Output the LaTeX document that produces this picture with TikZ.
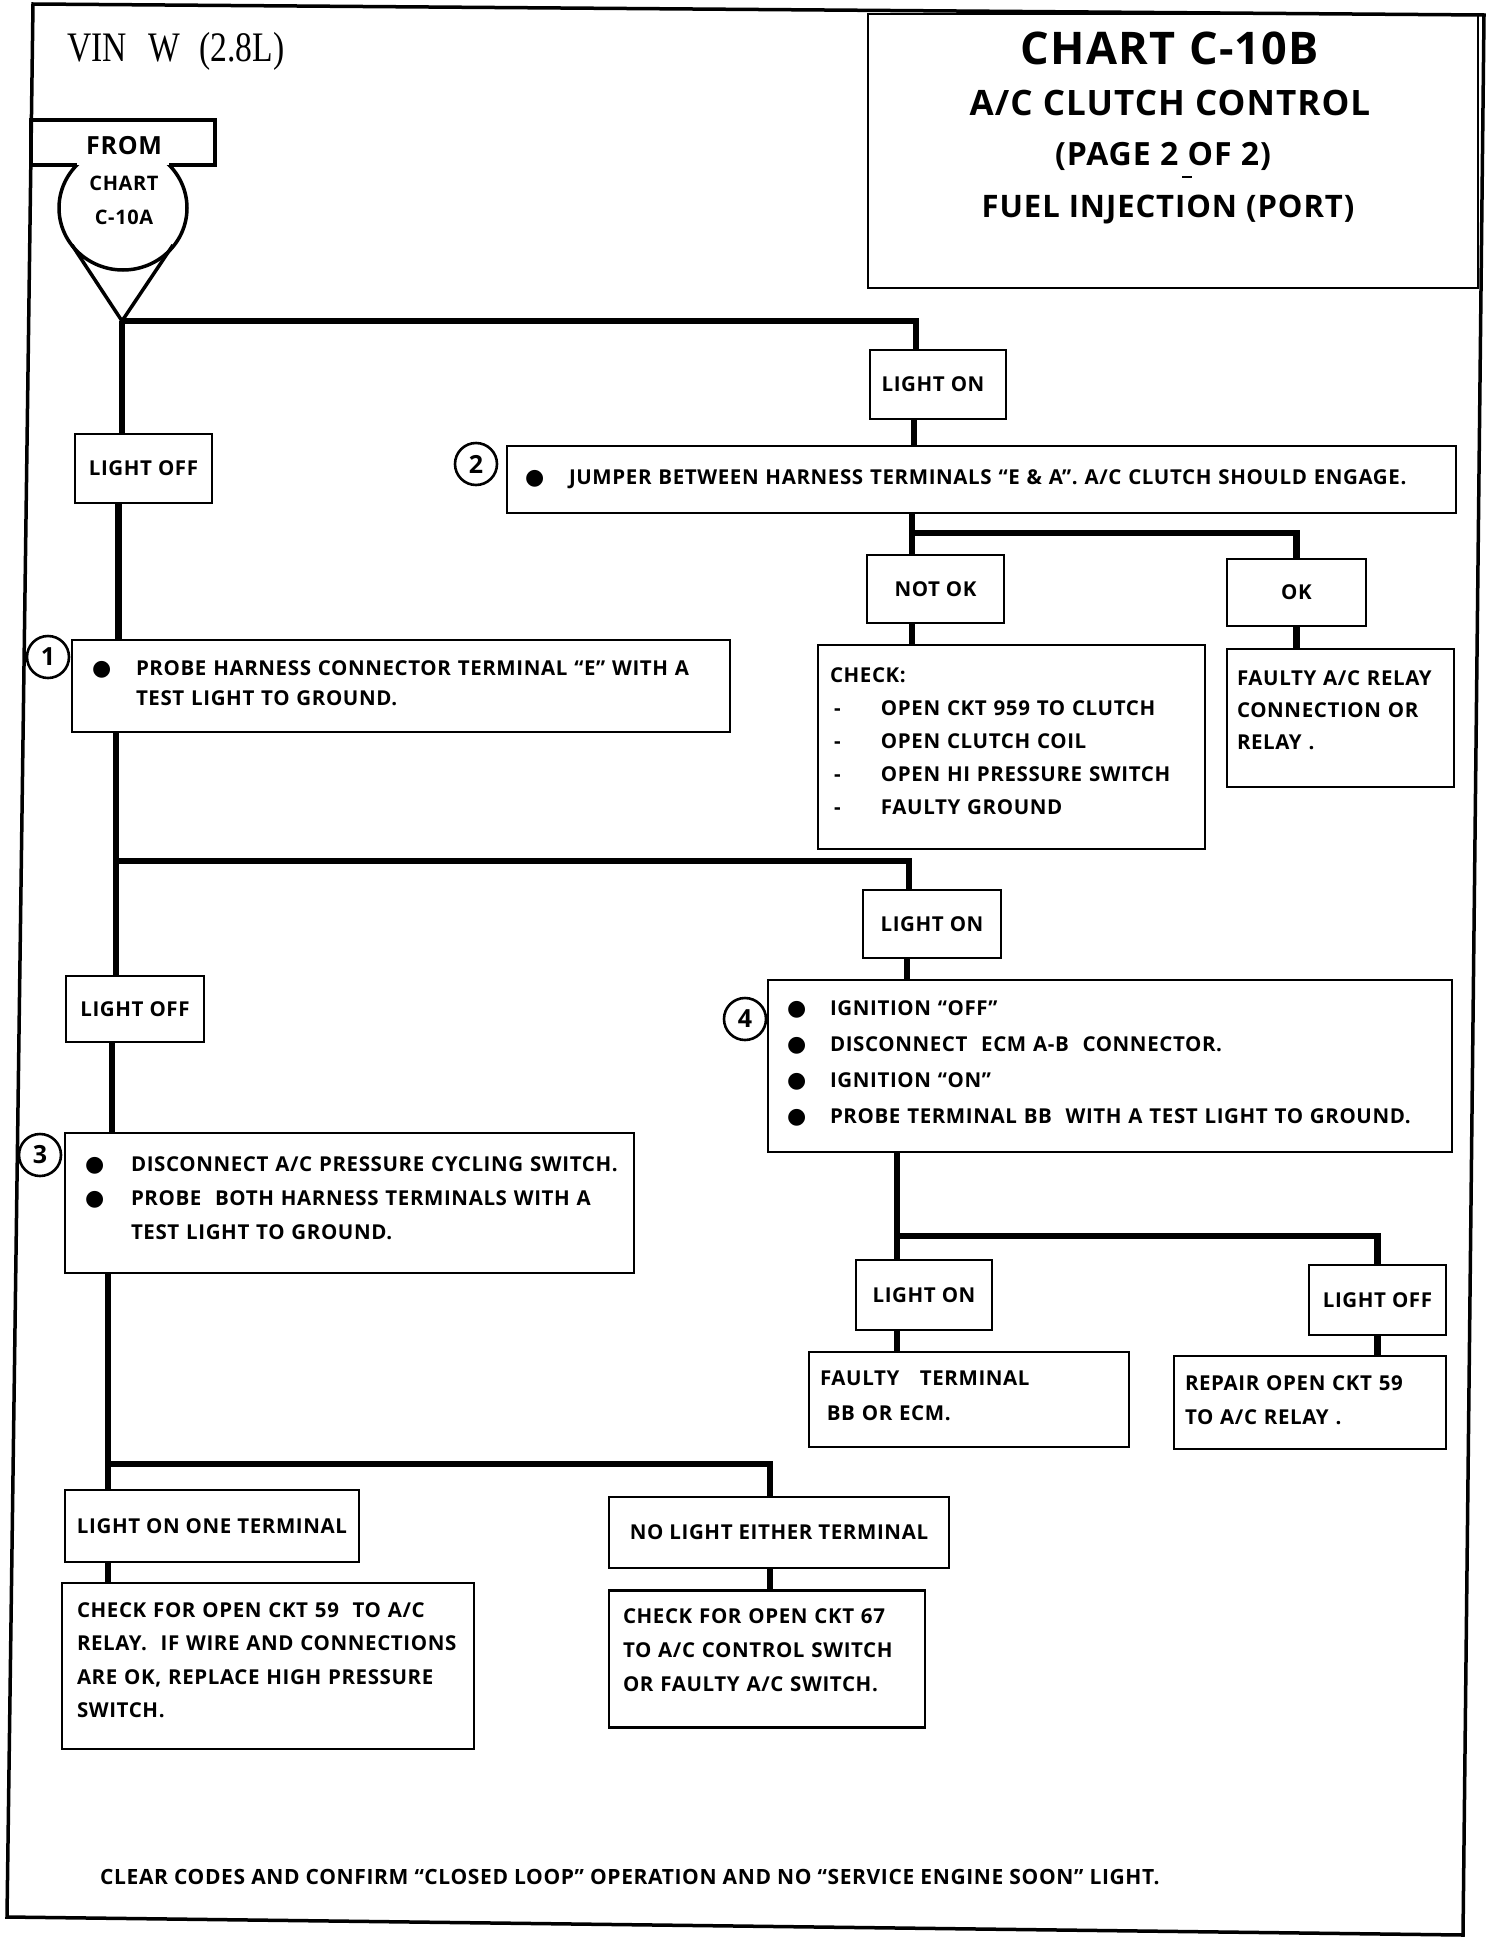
\documentclass[tikz,border=0pt]{standalone}
\usepackage{fontspec}
\setmainfont{Open Sans}[LetterSpace=3]
\newfontfamily\serifvin{Liberation Serif}
\newfontfamily\djv{DejaVu Sans}
\newcommand\blt{{\djv\fontsize{22}{22}\selectfont ●}}
\newcommand\bitem[2]{\mbox{\makebox[#1][l]{\blt}#2}}
\newcommand\hng[2]{\mbox{\hspace*{#1}#2}}
\newcommand\dsh[1]{\mbox{\hspace*{4pt}\makebox[47pt][l]{-}#1}}
\newcommand\ml[1]{\mbox{#1}}
\newcommand\bxf[1]{\bfseries\fontsize{20.5}{#1}\selectfont}
\begin{document}
\begin{tikzpicture}[x=1pt,y=-1pt,
  conn/.style={line width=6.5pt},
  frm/.style={line width=3.5pt, line join=miter},
  bx/.style={draw, line width=2.6pt, inner sep=0pt},
  txt/.style={inner sep=0pt, align=left},
  lb/.style={draw, line width=2.6pt, inner sep=0pt, align=center, font={\bxf{24}}},
  num/.style={circle, draw, line width=2.6pt, minimum size=42pt, inner sep=0pt, font={\bfseries\fontsize{25}{25}\selectfont}},
  ttl/.style={inner sep=0pt}]
\useasboundingbox (0,0) rectangle (1504,1938);
% page frame
\draw[frm] (33,4) -- (1484,15) -- (1463,1935) -- (7,1917) -- cycle;
% header
\node[anchor=base west, inner sep=0pt, font=\serifvin\fontsize{42}{42}\selectfont] (vin) at (67,61) {\scalebox{0.8}[1]{VIN\hspace{27pt}W\hspace{24pt}(2.8L)}};
\node[draw, line width=2.2pt, minimum width=610pt, minimum height=274pt] (title) at (1173,151) {};
\node[ttl, font=\bfseries\fontsize{45}{45}\selectfont] (t1) at (1170,48) {CHART C-10B};
\node[ttl, font=\bfseries\fontsize{35}{35}\selectfont] (t2) at (1170,103) {A/C CLUTCH CONTROL};
\node[ttl, font=\bfseries\fontsize{32}{32}\selectfont] (t3) at (1163,156) {(PAGE 2 OF 2)};
\draw[line width=1.5pt] (1182,177) -- (1192,177);
\node[ttl, font=\bfseries\fontsize{31}{31}\selectfont] (t4) at (1168,210) {FUEL INJECTION (PORT)};
% FROM symbol
\draw[line width=3.5pt, line join=miter] (77,165) -- (31,165) -- (31,120) -- (215,120) -- (215,165) -- (169,165);
\begin{scope}
  \clip (40,165) rectangle (210,300);
  \draw[line width=3.5pt] (123,208) ellipse [x radius=64, y radius=62];
\end{scope}
\coordinate (apex) at (122,321);
\draw[line width=3.5pt, line join=miter] (72,245) -- (apex) -- (173,245);
\node[font=\bfseries\fontsize{25}{25}\selectfont] (fromt) at (124,146) {FROM};
\node[align=center, font=\bfseries\fontsize{20}{34}\selectfont] (chart) at (124,200) {CHART\\C-10A};
% label boxes
\node[lb, minimum width=136pt, minimum height=69pt, text depth=0pt] (lon1) at (938,384.5) {\hspace*{-10pt}LIGHT ON};
\node[lb, minimum width=137pt, minimum height=69pt] (loff1) at (143.5,468.5) {LIGHT OFF};
\node[lb, minimum width=137pt, minimum height=68pt] (notok) at (935.5,589) {NOT OK};
\node[lb, minimum width=139pt, minimum height=67pt] (ok) at (1296.5,592.5) {OK};
\node[lb, minimum width=138pt, minimum height=68pt] (lon2) at (932,924) {LIGHT ON};
\node[lb, minimum width=138pt, minimum height=66pt] (loff2) at (135,1009) {LIGHT OFF};
\node[lb, minimum width=136pt, minimum height=70pt] (lon3) at (924,1295) {LIGHT ON};
\node[lb, minimum width=137pt, minimum height=70pt] (loff3) at (1377.5,1300) {LIGHT OFF};
\node[lb, minimum width=294pt, minimum height=72pt] (lonone) at (212,1526) {LIGHT ON ONE TERMINAL};
\node[lb, minimum width=340pt, minimum height=71pt] (noel) at (779,1532.5) {NO LIGHT EITHER TERMINAL};
% text boxes
\node[bx, minimum width=949pt, minimum height=67pt] (box2) at (981.5,479.5) {};
\node[txt, text width=913pt, font={\bxf{33}}] (box2t) at (box2.center)
  {\bitem{44pt}{JUMPER BETWEEN HARNESS TERMINALS “E \& A”. A/C CLUTCH SHOULD ENGAGE.}};
\node[bx, minimum width=658pt, minimum height=92pt] (box1) at (401,686) {};
\node[txt, text width=618pt, yshift=2.5pt, font={\bxf{30}}] (box1t) at (box1.center)
  {\bitem{44pt}{PROBE HARNESS CONNECTOR TERMINAL “E” WITH A}\\\hng{44pt}{TEST LIGHT TO GROUND.}};
\node[bx, minimum width=387pt, minimum height=204pt] (check) at (1011.5,747) {};
\node[txt, text width=363pt, yshift=6pt, font={\bxf{33}}] (checkt) at (check.center)
  {\ml{CHECK:}\\\dsh{OPEN CKT 959 TO CLUTCH}\\\dsh{OPEN CLUTCH COIL}\\\dsh{OPEN HI PRESSURE SWITCH}\\\dsh{FAULTY GROUND}};
\node[bx, minimum width=227pt, minimum height=138pt] (relay) at (1340.5,718) {};
\node[txt, text width=207pt, yshift=7.5pt, font={\bxf{32}}] (relayt) at (relay.center)
  {\ml{FAULTY A/C RELAY}\\\ml{CONNECTION OR}\\\ml{RELAY .}};
\node[bx, minimum width=684pt, minimum height=172pt] (box4) at (1110,1066) {};
\node[txt, text width=646pt, yshift=3pt, font={\bxf{36}}] (box4t) at (box4.center)
  {\bitem{43pt}{IGNITION “OFF”}\\\bitem{43pt}{DISCONNECT\ \ ECM A-B\ \ CONNECTOR.}\\\bitem{43pt}{IGNITION “ON”}\\\bitem{43pt}{PROBE TERMINAL BB\ \ WITH A TEST LIGHT TO GROUND.}};
\node[bx, minimum width=569pt, minimum height=140pt] (box3) at (349.5,1203) {};
\node[txt, text width=529pt, yshift=5pt, font={\bxf{34}}] (box3t) at (box3.center)
  {\bitem{46pt}{DISCONNECT A/C PRESSURE CYCLING SWITCH.}\\\bitem{46pt}{PROBE\ \ BOTH HARNESS TERMINALS WITH A}\\\hng{46pt}{TEST LIGHT TO GROUND.}};
\node[bx, minimum width=320pt, minimum height=95pt] (faulty) at (969,1399.5) {};
\node[txt, text width=298pt, yshift=3.5pt, font={\bxf{35}}] (faultyt) at (faulty.center)
  {\ml{FAULTY\ \ \ TERMINAL}\\\ml{\ BB OR ECM.}};
\node[bx, minimum width=272pt, minimum height=93pt] (repair) at (1310,1402.5) {};
\node[txt, text width=250pt, yshift=2pt, font={\bxf{34}}] (repairt) at (repair.center)
  {\ml{REPAIR OPEN CKT 59}\\\ml{TO A/C RELAY .}};
\node[bx, minimum width=412pt, minimum height=166pt] (ckt59) at (268,1666) {};
\node[txt, text width=382pt, yshift=6pt, font={\bxf{33.5}}] (ckt59t) at (ckt59.center)
  {\ml{CHECK FOR OPEN CKT 59\ \ TO A/C}\\\ml{RELAY.\ \ IF WIRE AND CONNECTIONS}\\\ml{ARE OK, REPLACE HIGH PRESSURE}\\\ml{SWITCH.}};
\node[bx, minimum width=316pt, minimum height=137pt] (ckt67) at (767,1659) {};
\node[txt, text width=288pt, yshift=9pt, font={\bxf{34}}] (ckt67t) at (ckt67.center)
  {\ml{CHECK FOR OPEN CKT 67}\\\ml{TO A/C CONTROL SWITCH}\\\ml{OR FAULTY A/C SWITCH.}};
% step numbers
\node[num] (c1) at (48,657) {1};
\node[num] (c2) at (476,464) {2};
\node[num] (c3) at (40,1155) {3};
\node[num] (c4) at (745,1019) {4};
% footer
\node[anchor=west, inner sep=0pt, font={\bfseries\fontsize{21}{24}\selectfont}] (clear) at (100,1877) {CLEAR CODES AND CONFIRM “CLOSED LOOP” OPERATION AND NO “SERVICE ENGINE SOON” LIGHT.};
% connectors
\coordinate (v1) at ([xshift=-22pt]lon1.north);
\coordinate (v2) at ([xshift=-24pt]lon1.south);
\coordinate (j2) at (912,533);
\coordinate (v3) at ([xshift=-25pt]loff1.south);
\coordinate (j3) at (116,861);
\coordinate (v4) at ([xshift=-23pt]lon2.north);
\coordinate (v5) at ([xshift=-25pt]lon2.south);
\coordinate (v6) at ([xshift=-23pt]loff2.south);
\coordinate (j5) at (897,1236);
\coordinate (j6) at (108,1464);
\coordinate (v7) at ([xshift=-9pt]noel.north);
\coordinate (v8) at ([xshift=-9pt]noel.south);
\draw[conn] (apex) -- (apex |- loff1.north);
\draw[conn] (apex) -| (v1);
\draw[conn] (v2) -- (v2 |- box2.north);
\draw[conn] (box2.south -| j2) -- (j2 |- notok.north);
\draw[conn] (j2) -| (ok.north);
\draw[conn] (notok.south -| j2) -- (check.north -| j2);
\draw[conn] (ok.south) -- (ok.south |- relay.north);
\draw[conn] (v3) -- (v3 |- box1.north);
\draw[conn] (box1.south -| j3) -- (j3 |- loff2.north);
\draw[conn] (j3) -| (v4);
\draw[conn] (v5) -- (v5 |- box4.north);
\draw[conn] (v6) -- (v6 |- box3.north);
\draw[conn] (box4.south -| j5) -- (j5 |- lon3.north);
\draw[conn] (j5) -| (loff3.north);
\draw[conn] (lon3.south -| j5) -- (faulty.north -| j5);
\draw[conn] (loff3.south) -- (loff3.south |- repair.north);
\draw[conn] (box3.south -| j6) -- (j6 |- lonone.north);
\draw[conn] (j6) -| (v7);
\draw[conn] (lonone.south -| j6) -- (ckt59.north -| j6);
\draw[conn] (v8) -- (v8 |- ckt67.north);
\end{tikzpicture}
\end{document}
